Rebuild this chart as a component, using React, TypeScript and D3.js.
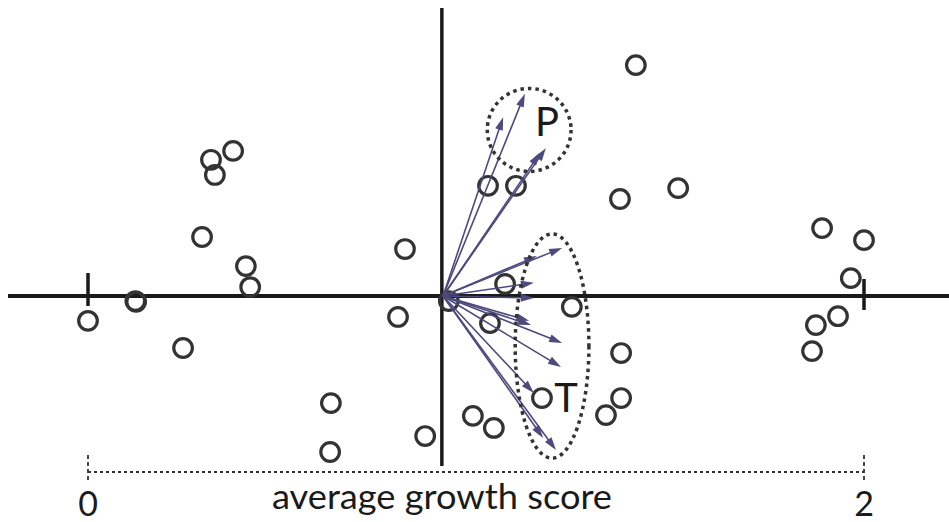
import React from "react";
import * as d3 from "d3";

// Sample scores: x = average growth score, y = second ordination axis (same units)
const sampleX = [
  0.0, 0.124, 0.122, 0.245, 0.407, 0.418, 0.317, 0.374, 0.327, 0.294,
  0.817, 0.799, 0.93, 0.626, 0.624, 0.869, 0.992, 1.046, 1.17, 1.335,
  1.374, 1.374, 1.247, 1.036, 1.075, 1.031, 1.103, 1.412, 1.371, 1.521,
  1.892, 2.0, 1.966, 1.933, 1.876, 1.866,
];
const sampleY = [
  -0.064, -0.015, -0.013, -0.134, 0.077, 0.023, 0.351, 0.374, 0.312, 0.152,
  0.121, -0.054, -0.013, -0.276, -0.402, -0.361, -0.309, -0.34, -0.263, -0.307,
  -0.263, -0.147, -0.028, -0.07, 0.031, 0.284, 0.284, 0.595, 0.25, 0.278,
  0.175, 0.144, 0.046, -0.052, -0.075, -0.142,
];

// Trait loading vectors (tips), all drawn from the ordination origin
const loadingOrigin = [0.915, 0];
const loadingX = [
  1.126, 1.07, 1.18, 1.165,
  1.222, 1.157, 1.149, 1.149, 1.137, 1.142, 1.222, 1.219, 1.149, 1.173, 1.206,
];
const loadingY = [
  0.521, 0.461, 0.381, 0.369,
  0.124, 0.103, 0.034, -0.005, -0.064, -0.075, -0.121, -0.183, -0.25, -0.366, -0.397,
];

// Trait groups outlined by dotted ellipses
const groupNames = ["P", "T"];
const groupCx = [1.137, 1.196];
const groupCy = [0.428, -0.129];
const groupRx = [0.108, 0.095];
const groupRy = [0.107, 0.289];
const groupLabelX = [1.183, 1.232];
const groupLabelY = [0.412, -0.299];

// Axis labels
const scaleTicks = [0, 2];
const axisTitle = "average growth score";

const W = 949;
const H = 522;

export default function App() {
  const x = d3.scaleLinear().domain([0, 2]).range([88, 864]);
  const y = d3.scaleLinear().domain([-1, 1]).range([296 + 388, 296 - 388]);
  const k = x(1) - x(0);

  const axisX = x(0.912);
  const axisY = y(0);
  const ink = "#1a1a1a";
  const circleInk = "#333";
  const arrowInk = "#4c4a7e";

  const arrowHead = (x1: number, y1: number, x2: number, y2: number) => {
    const ang = Math.atan2(y2 - y1, x2 - x1);
    const len = 13;
    const hw = 4;
    const bx = x2 - len * Math.cos(ang);
    const by = y2 - len * Math.sin(ang);
    const px = -Math.sin(ang) * hw;
    const py = Math.cos(ang) * hw;
    return `M${x2},${y2}L${bx + px},${by + py}L${bx - px},${by - py}Z`;
  };

  const ox = x(loadingOrigin[0]);
  const oy = y(loadingOrigin[1]);

  return (
    <svg
      width={W}
      height={H}
      style={{ position: "absolute", left: 0, top: 0, background: "#fff" }}
      fontFamily="Lato, 'Open Sans', sans-serif"
    >
      <rect width={W} height={H} fill="#fff" />

      {/* main axes */}
      <line x1={8} x2={W} y1={axisY} y2={axisY} stroke={ink} strokeWidth={4} />
      <line x1={axisX} x2={axisX} y1={8} y2={466} stroke={ink} strokeWidth={3.5} />

      {/* end ticks of the growth score scale */}
      {scaleTicks.map((t, i) => (
        <line
          key={"tk" + i}
          x1={x(t)}
          x2={x(t)}
          y1={axisY - (i === 0 ? 23 : 17)}
          y2={axisY + (i === 0 ? 10 : 14)}
          stroke={ink}
          strokeWidth={3.5}
        />
      ))}

      {/* dotted scale bracket */}
      <line
        x1={x(0)}
        x2={x(2)}
        y1={472}
        y2={472}
        stroke="#333"
        strokeWidth={1.8}
        strokeDasharray="3 3"
      />
      {scaleTicks.map((t, i) => (
        <line
          key={"bt" + i}
          x1={x(t)}
          x2={x(t)}
          y1={455}
          y2={480}
          stroke="#333"
          strokeWidth={1.8}
          strokeDasharray="4 3"
        />
      ))}
      {scaleTicks.map((t, i) => (
        <text
          key={"tl" + i}
          x={x(t)}
          y={516}
          textAnchor="middle"
          fontSize={34}
          fill={ink}
        >
          {t}
        </text>
      ))}
      <text
        x={442}
        y={509}
        textAnchor="middle"
        fontSize={34}
        textLength={340}
        lengthAdjust="spacingAndGlyphs"
        fill={ink}
      >
        {axisTitle}
      </text>

      {/* sample scores */}
      {sampleX.map((sx, i) => (
        <circle
          key={"c" + i}
          cx={x(sx)}
          cy={y(sampleY[i])}
          r={9.3}
          fill="none"
          stroke={circleInk}
          strokeWidth={3.2}
        />
      ))}

      {/* loading vectors */}
      {loadingX.map((lx, i) => {
        const tx = x(lx);
        const ty = y(loadingY[i]);
        const ang = Math.atan2(ty - oy, tx - ox);
        return (
          <g key={"a" + i}>
            <line
              x1={ox}
              y1={oy}
              x2={tx - 10 * Math.cos(ang)}
              y2={ty - 10 * Math.sin(ang)}
              stroke={arrowInk}
              strokeWidth={1.6}
            />
            <path d={arrowHead(ox, oy, tx, ty)} fill={arrowInk} />
          </g>
        );
      })}

      {/* trait groups */}
      {groupNames.map((g, i) => (
        <g key={"g" + i}>
          <ellipse
            cx={x(groupCx[i])}
            cy={y(groupCy[i])}
            rx={groupRx[i] * k}
            ry={groupRy[i] * k}
            fill="none"
            stroke="#333"
            strokeWidth={3.5}
            strokeDasharray="3.5 4"
          />
          <text
            x={x(groupLabelX[i])}
            y={y(groupLabelY[i])}
            textAnchor="middle"
            fontSize={40}
            fill={ink}
          >
            {g}
          </text>
        </g>
      ))}
    </svg>
  );
}
